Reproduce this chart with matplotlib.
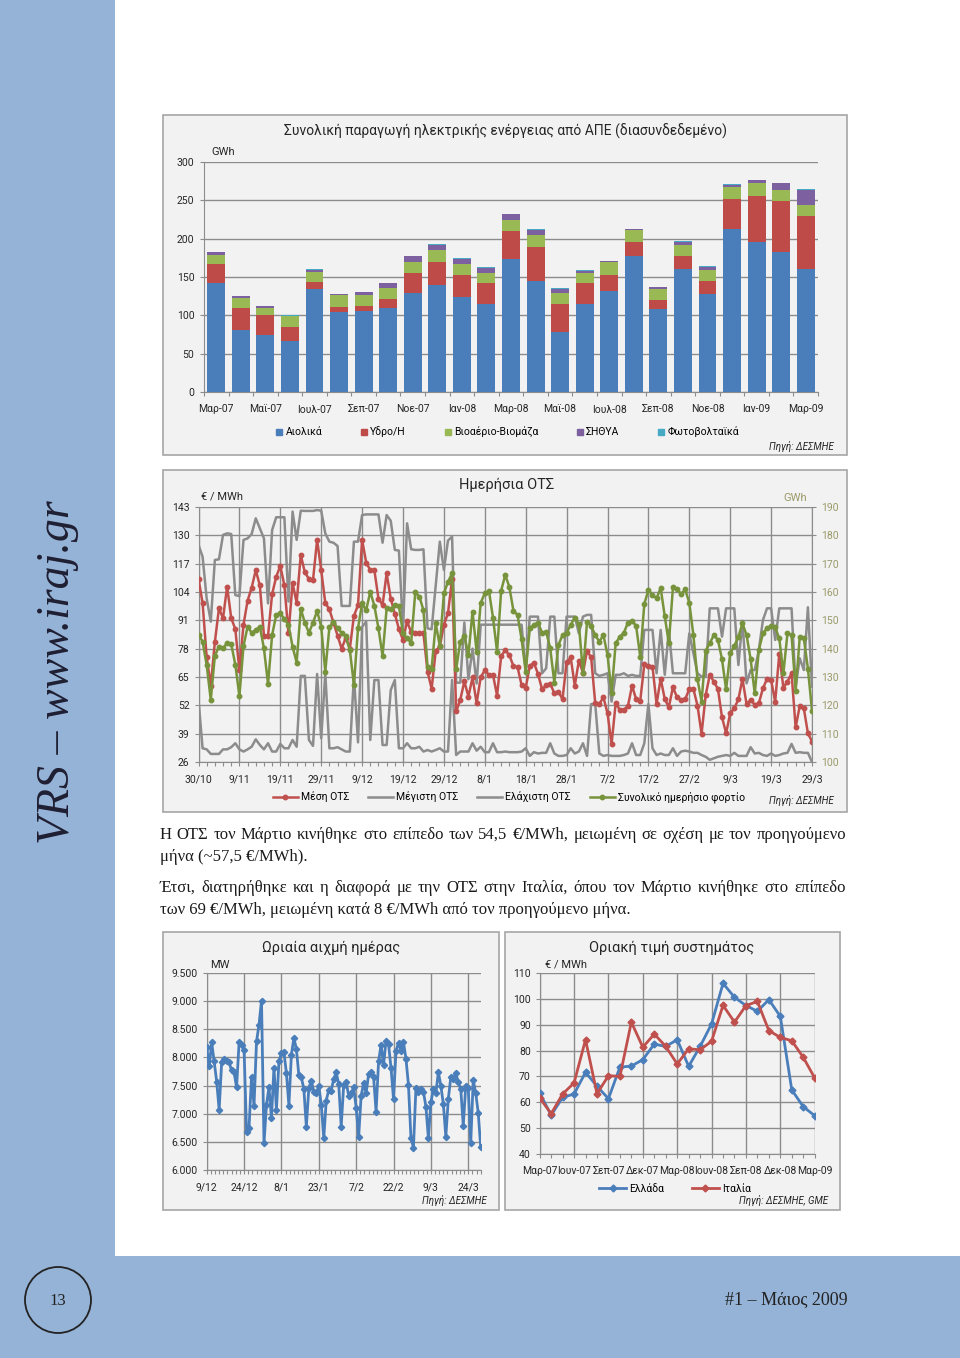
import numpy as np
import matplotlib
matplotlib.use('Agg')
import matplotlib.pyplot as plt
from matplotlib.patches import Rectangle, Circle
from matplotlib.lines import Line2D
from matplotlib.ticker import MultipleLocator, FuncFormatter

plt.rcParams['font.family'] = ['Roboto', 'DejaVu Sans']
SERIF = ['Liberation Serif', 'DejaVu Serif']

W, H = 960, 1358

# ---- monthly RES production (GWh) ----
months = ['Μαρ-07', 'Απρ-07', 'Μαϊ-07', 'Ιουν-07', 'Ιουλ-07', 'Αυγ-07', 'Σεπ-07', 'Οκτ-07',
          'Νοε-07', 'Δεκ-07', 'Ιαν-08', 'Φεβ-08', 'Μαρ-08', 'Απρ-08', 'Μαϊ-08', 'Ιουν-08',
          'Ιουλ-08', 'Αυγ-08', 'Σεπ-08', 'Οκτ-08', 'Νοε-08', 'Δεκ-08', 'Ιαν-09', 'Φεβ-09', 'Μαρ-09']
wind = [142, 81, 74, 66, 135, 105, 106, 110, 129, 139, 124, 115, 173, 145, 78, 115, 132, 178,
        108, 160, 128, 212, 196, 182, 160]
hydro = [25, 28, 26, 19, 9, 6, 6, 11, 26, 30, 28, 27, 37, 44, 37, 27, 21, 18, 12.5, 17, 17,
         40, 60, 67, 69]
bio = [12, 13, 10, 14, 13, 15, 14, 15, 15, 16, 15, 13, 15, 15.5, 14, 13.5, 16, 15, 14, 15,
       13.5, 15, 16, 15, 15]
chp = [3, 3, 2.5, 0.5, 2.5, 2, 4, 6, 7, 7, 7, 7, 7, 7, 5.5, 2.5, 1.5, 1, 2, 4, 4.5, 3, 4, 8, 20]
pv = [0.3, 0.3, 0.3, 0.3, 0.3, 0.3, 0.3, 0.3, 0.4, 0.4, 0.4, 0.4, 0.5, 1, 0.6, 0.6, 1, 0.8,
      0.7, 0.7, 0.8, 1.3, 0.5, 0.5, 1]
res_names = ['Αιολικά', 'Υδρο/Η', 'Βιοαέριο-Βιομάζα', 'ΣΗΘΥΑ', 'Φωτοβολταϊκά']
res_colors = ['#4a7ebb', '#be4b48', '#98b954', '#7d60a0', '#46aac5']

# ---- daily SMP 30/10/08 - 29/3/09 ----
day_labels = ['30/10', '9/11', '19/11', '29/11', '9/12', '19/12', '29/12', '8/1', '18/1',
              '28/1', '7/2', '17/2', '27/2', '9/3', '19/3', '29/3']
smp_avg = [110, 99, 74, 61, 81, 96.5, 92, 106.5, 92, 87,
           68, 89, 100, 106, 114, 107, 84, 84, 103, 111,
           116, 107, 85, 108, 99, 121, 113, 110, 109.5, 128,
           114, 99, 96, 90, 84, 78, 83, 78, 93, 98,
           128, 117.5, 114, 114, 101, 98, 112.6, 101, 94, 87,
           82, 90.5, 85.5, 85, 85, 85, 67.5, 59.6, 77, 79,
           89, 94.3, 110, 49.2, 54.5, 63, 56, 64.8, 53, 65,
           68, 66, 66, 56.5, 74.6, 77.3, 75, 70, 69.5, 61.3,
           60, 70, 71.6, 66.4, 59.4, 61.2, 62, 57.5, 58.3, 54.8,
           71.7, 74, 61, 72.5, 67, 77, 74, 53, 52.6, 55.7,
           48.4, 34.3, 53, 50, 50, 51.7, 61, 54.8, 54, 70.8,
           70, 69.8, 52.6, 64.2, 54.9, 51.2, 60.3, 55.7, 54.5, 54.8,
           59.5, 59.5, 51.9, 38.9, 56.6, 65.9, 62.9, 59.5, 46.5, 39.2,
           48.4, 50.6, 54.8, 64.1, 52.6, 54.5, 52.3, 52.9, 59.8, 64.1,
           63.6, 53.7, 75.6, 60.1, 62.9, 66.7, 41.9, 51.7, 50.6, 39.2, 35.4]
smp_max = [125.6, 120.2, 101, 90.4, 118.7, 119, 130.2, 130.9, 130.6, 102.6,
           102.1, 127.9, 128.6, 130.6, 137.8, 133.2, 128.6, 98.8, 132.4, 138.3,
           138.3, 138.3, 99.6, 140.9, 127.9, 141.3, 141.2, 141.2, 141.2, 141.6,
           141.3, 130.9, 127.1, 126.6, 125.1, 97.6, 97.6, 97.6, 127.1, 127.1,
           139.3, 139.6, 139.6, 139.6, 139.6, 126.6, 139.3, 136.7, 123.3, 123,
           87.3, 135.5, 123.6, 123.3, 123.3, 123.6, 87.3, 86.9, 106.8, 127.1,
           114.1, 127.6, 129.4, 62.4, 62.4, 90, 64, 78, 62, 89,
           89, 89, 89, 89, 89, 89, 89, 89, 89, 89,
           67.5, 92.7, 92.7, 92.7, 66.7, 69, 92.7, 92.7, 66.7, 66.7,
           92.7, 92.7, 92.7, 85, 92.7, 93.5, 93.5, 66.7, 65.5, 66,
           66.7, 53.7, 66, 66, 66.7, 65.5, 66, 65.5, 65.5, 86.6,
           86.6, 86.6, 66.7, 86.6, 66, 86.6, 66.7, 66.7, 66.7, 66.7,
           85, 75.9, 66.7, 65.2, 65.2, 96.5, 96.5, 96.5, 83.5, 96.5,
           96.5, 96.5, 70.5, 90.8, 62.1, 68.2, 68.2, 77.4, 91.1, 96.5,
           96.5, 82, 96.5, 96.5, 96.5, 96.5, 60.6, 73.6, 68.2, 97, 60.6]
smp_min = [54.5, 32.3, 31.8, 29.7, 29.7, 29.7, 31.8, 31.8, 32.8, 34.6,
           31.8, 30.8, 31.8, 33, 36.4, 33.8, 31.8, 34.6, 30.8, 30.8,
           34.3, 32.3, 32.3, 36.1, 33, 65.5, 65.5, 36.1, 33.4, 66.4,
           36.9, 66.7, 32.3, 32.3, 32.8, 31.8, 30.8, 30.8, 65.5, 35,
           88, 90.4, 36.1, 63.6, 63.6, 33.8, 33.8, 59, 63.6, 32.3,
           32.3, 34.6, 32.3, 32.3, 33, 30.8, 31.5, 30.8, 31.5, 32.3,
           30.8, 30.8, 63.6, 29.2, 30.8, 30.8, 30.8, 34.6, 31.2, 33,
           30.5, 30.5, 34.6, 30.5, 30.5, 30.8, 30.5, 30.5, 30.5, 30.8,
           32.3, 28.8, 30.5, 29.9, 30.2, 30.2, 34.6, 29.9, 28.8, 28.8,
           29.2, 32.3, 29.9, 30.8, 34.6, 28.8, 52.6, 52.6, 29.9, 28.8,
           29.2, 28.8, 28.8, 28.8, 29.2, 29.9, 34.6, 29.2, 29.2, 34.6,
           52.6, 32.3, 29.2, 29.9, 29.2, 29.2, 32.3, 28.8, 30.8, 31.2,
           30.8, 30.2, 30.2, 29.2, 28.4, 27, 27.7, 28.4, 28.8, 29.2,
           28.8, 30.2, 28.8, 28.8, 28.8, 32.8, 29.9, 30.2, 29.2, 28.8,
           29.9, 28.8, 29.2, 29.9, 30.2, 34.3, 30.2, 30.5, 30.2, 30.2, 26]
load = [145, 142.5, 134.2, 121.9, 137.5, 140.7, 140.1, 142.1, 141.6, 134.4,
        123.3, 140.9, 147.8, 145.6, 146.6, 147.8, 140.1, 127.5, 144.8, 151.9,
        152.5, 150.4, 148.4, 140.7, 135.1, 154, 149.2, 145.6, 149.2, 153.3,
        147.8, 131.9, 147.5, 149.5, 147.2, 145.6, 144.5, 139.5, 127.2, 147.2,
        156, 153.6, 160.1, 155.1, 147.2, 137.4, 154.2, 153.9, 155.4, 155.1,
        145.4, 143.6, 142.1, 159.9, 158.4, 153.6, 133.6, 133, 148.9, 140.9,
        159.5, 163.6, 166.6, 132.7, 142.5, 144.5, 137.8, 153.1, 138.9, 156.2,
        159.5, 160.5, 151, 138.9, 160.5, 166, 161.8, 153.4, 151.9, 143.3,
        131.9, 147.2, 148.4, 149.2, 145.6, 146, 140.1, 128, 141.3, 144.8,
        145.6, 148.4, 151, 148.7, 131.3, 149.5, 148, 144.8, 142.5, 144.8,
        137.8, 124.5, 141.9, 144.2, 145.6, 149.2, 149.9, 148, 137.2, 155.8,
        160.7, 158.9, 157.8, 161.4, 151.4, 141.9, 161.6, 160.9, 159.3, 160.9,
        156.2, 144.8, 129.2, 121.3, 139.3, 141.9, 144.8, 143.1, 136.2, 125.6,
        138.4, 140.9, 144.2, 148.9, 144.8, 136.2, 124.2, 139.5, 145.4, 147.2,
        148, 147.5, 143.6, 131.3, 145.4, 144.8, 125.2, 144, 143.6, 133, 118.1]

# ---- daily peak load (MW) 9/12/08 - 29/3/09 ----
peak_labels = ['9/12', '24/12', '8/1', '23/1', '7/2', '22/2', '9/3', '24/3']
peak = [8183, 7839, 8266, 7928, 7572, 7068, 7910, 7970, 7928, 7910,
        7768, 7733, 7466, 8266, 8225, 8136, 6683, 6754, 7661, 7140,
        8284, 8581, 9008, 6475, 7157, 7472, 6920, 7821, 7068, 7928,
        8077, 8094, 7721, 7145, 8047, 8343, 8154, 7679, 7644, 7442,
        6772, 7454, 7584, 7394, 7365, 7501, 7157, 6564, 7234, 7424,
        7412, 7620, 7733, 7525, 6772, 7513, 7561, 7323, 7365, 7466,
        7110, 6582, 7317, 7543, 7365, 7703, 7750, 7650, 7039, 7928,
        8225, 7869, 8296, 8237, 7810, 7258, 8118, 8255, 8118, 8272,
        7976, 7513, 6564, 6398, 7454, 7394, 7442, 7394, 7127, 6564,
        7205, 7436, 7365, 7739, 7495, 7175, 6594, 7264, 7650, 7614,
        7721, 7561, 7436, 6784, 7495, 7454, 6475, 7602, 7365, 7021, 6404]

# ---- monthly SMP Greece / Italy ----
smp_gr = [63.6, 55, 61.9, 63.2, 71.6, 66.2, 61.4, 73.6, 74, 76.5, 82.5, 81.6, 84.2, 73.9,
          81.6, 90.3, 106, 100.6, 97.4, 95.2, 99.7, 93.2, 64.8, 58.3, 54.8]
smp_it = [61.7, 55.6, 63.2, 67.5, 84.2, 63.3, 70.3, 70, 91, 81.3, 86.4, 81.6, 74.8, 80.7,
          80.3, 83.6, 97.5, 91, 97.4, 99, 87.7, 85.1, 83.8, 77.4, 69.4]

BOX_BG = '#f2f2f2'
GRID = '#8c8c8c'
TXT = '#262626'


def ax_rect(x0, y0, x1, y1):
    return [x0 / W, 1 - y1 / H, (x1 - x0) / W, (y1 - y0) / H]


def style(ax):
    ax.set_facecolor(BOX_BG)
    for s in ['top', 'right']:
        ax.spines[s].set_visible(False)
    for s in ['left', 'bottom']:
        ax.spines[s].set_color(GRID)
    ax.tick_params(labelsize=7.5, colors=GRID, labelcolor=TXT, length=3, width=0.8)
    ax.tick_params(which='minor', colors=GRID, length=3, width=0.8)
    ax.set_axisbelow(True)


fig = plt.figure(figsize=(W / 100, H / 100), dpi=100)
bg = fig.add_axes([0, 0, 1, 1])
bg.set_xlim(0, W)
bg.set_ylim(H, 0)
bg.axis('off')

blue = '#95b3d7'
bg.add_patch(Rectangle((0, 0), 115, 1256, color=blue, lw=0))
bg.add_patch(Rectangle((0, 1256), W, H - 1256, color=blue, lw=0))
for x0, y0, x1, y1 in [(163, 115, 847, 455), (163, 470, 847, 812),
                       (163, 932, 499, 1210), (505, 932, 840, 1210)]:
    bg.add_patch(Rectangle((x0, y0), x1 - x0, y1 - y0, facecolor=BOX_BG,
                           edgecolor='#a6a6a6', lw=1.2))

# side + footer
bg.text(58, 672, 'VRS – www.iraj.gr', rotation=90, ha='center', va='center',
        fontsize=33, style='italic', family=SERIF, color='#1f1f33')
bg.add_patch(Circle((58, 1300), 33, fill=False, edgecolor='#222222', lw=1.3))
bg.text(58, 1301, '13', ha='center', va='center', fontsize=12, family=SERIF, color='#222222')
bg.text(786, 1300, '#1 – Μάιος 2009', ha='center', va='center', fontsize=13,
        family=SERIF, color='#222222')

# ---------------- chart 1: stacked bars ----------------
ax1 = fig.add_axes(ax_rect(204, 162, 818, 392))
style(ax1)
x = np.arange(len(months))
bottom = np.zeros(len(months))
for vals, name, col in zip([wind, hydro, bio, chp, pv], res_names, res_colors):
    ax1.bar(x, vals, 0.73, bottom=bottom, color=col, label=name, zorder=3)
    bottom += np.array(vals)
ax1.set_xlim(-0.5, len(months) - 0.5)
ax1.set_ylim(0, 300)
ax1.set_yticks(range(0, 301, 50))
ax1.yaxis.grid(True, color=GRID, lw=1)
ax1.set_xticks(x[::2])
ax1.set_xticklabels(months[::2])
ax1.set_xticks(np.arange(-0.5, len(months), 1), minor=True)
ax1.tick_params(axis='x', which='major', length=0, pad=9)
ax1.tick_params(axis='y', pad=4)

bg.text(505, 131, 'Συνολική παραγωγή ηλεκτρικής ενέργειας από ΑΠΕ (διασυνδεδεμένο)',
        ha='center', va='center', fontsize=10, color=TXT)
bg.text(211, 152, 'GWh', ha='left', va='center', fontsize=8, color=TXT)
bg.text(834, 446, 'Πηγή: ΔΕΣΜΗΕ', ha='right', va='center', fontsize=7, style='italic', color=TXT)
h1 = [Line2D([], [], marker='s', ls='none', ms=5, color=c) for c in res_colors]
fig.legend(h1, res_names, loc='center', bbox_to_anchor=(507 / W, 1 - 432 / H), ncol=5,
           frameon=False, fontsize=7.5, handlelength=0.8, handletextpad=0.2, columnspacing=3.6)

# ---------------- chart 2: daily SMP ----------------
days = np.arange(len(smp_avg))
ax2 = fig.add_axes(ax_rect(198.5, 507, 812, 762))
style(ax2)
ax2.plot(days, smp_max, color=GRID, lw=1.8, zorder=3)
ax2.plot(days, smp_min, color=GRID, lw=1.8, zorder=3)
ax2.plot(days, smp_avg, color='#c0504d', lw=1.8, marker='o', ms=3.2, zorder=4)
ax2.set_xlim(0, 150)
ax2.set_ylim(26, 143)
ax2.set_yticks(range(26, 144, 13))
ax2.set_xticks(range(0, 151, 10))
ax2.set_xticklabels(day_labels)
ax2.xaxis.set_minor_locator(MultipleLocator(2))
ax2.grid(True, color=GRID, lw=1)
ax2.tick_params(axis='x', which='major', length=3, pad=6)
ax2r = ax2.twinx()
ax2r.spines['top'].set_visible(False)
ax2r.spines['left'].set_visible(False)
ax2r.spines['bottom'].set_visible(False)
ax2r.spines['right'].set_color(GRID)
ax2r.plot(days, load, color='#77933c', lw=1.8, marker='o', ms=3.2, zorder=5)
ax2r.set_ylim(100, 190)
ax2r.set_yticks(range(100, 191, 10))
ax2r.tick_params(labelsize=7.5, colors=GRID, labelcolor='#9a9a6a', length=3, width=0.8)

bg.text(507, 485, 'Ημερήσια ΟΤΣ', ha='center', va='center', fontsize=10.5, color=TXT)
bg.text(201, 497, '€ / MWh', ha='left', va='center', fontsize=8, color=TXT)
bg.text(795, 498, 'GWh', ha='center', va='center', fontsize=8, color='#9a9a6a')
bg.text(834, 801, 'Πηγή: ΔΕΣΜΗΕ', ha='right', va='center', fontsize=7, style='italic', color=TXT)
h2 = [Line2D([], [], color='#c0504d', lw=1.8, marker='o', ms=3.2),
      Line2D([], [], color=GRID, lw=1.8),
      Line2D([], [], color=GRID, lw=1.8),
      Line2D([], [], color='#77933c', lw=1.8, marker='o', ms=3.2)]
fig.legend(h2, ['Μέση ΟΤΣ', 'Μέγιστη ΟΤΣ', 'Ελάχιστη ΟΤΣ', 'Συνολικό ημερήσιο φορτίο'],
           loc='center', bbox_to_anchor=(509 / W, 1 - 797 / H), ncol=4, frameon=False,
           fontsize=7.5, handlelength=2.4, handletextpad=0.3, columnspacing=1.8)

# ---------------- chart 3: peak load ----------------
pdays = np.arange(len(peak))
ax3 = fig.add_axes(ax_rect(206.7, 973, 480.7, 1170))
style(ax3)
ax3.plot(pdays, peak, color='#4a7ebb', lw=2, marker='D', ms=3.2, zorder=3)
ax3.set_xlim(0, 110)
ax3.set_ylim(6000, 9500)
ax3.set_yticks(range(6000, 9501, 500))
ax3.yaxis.set_major_formatter(FuncFormatter(lambda v, p: f'{int(v):,}'.replace(',', '.')))
ax3.set_xticks(range(0, 106, 15))
ax3.set_xticklabels(peak_labels)
ax3.xaxis.set_minor_locator(MultipleLocator(5 / 3))
ax3.grid(True, color=GRID, lw=1)
ax3.tick_params(axis='x', which='major', pad=6)
bg.text(331, 948, 'Ωριαία αιχμή ημέρας', ha='center', va='center', fontsize=10.5, color=TXT)
bg.text(210, 965, 'MW', ha='left', va='center', fontsize=8, color=TXT)
bg.text(487, 1201, 'Πηγή: ΔΕΣΜΗΕ', ha='right', va='center', fontsize=7, style='italic', color=TXT)

# ---------------- chart 4: monthly SMP GR / IT ----------------
ax4 = fig.add_axes(ax_rect(539.7, 973, 814.7, 1154))
style(ax4)
mx = np.arange(len(months))
ax4.plot(mx, smp_gr, color='#4a7ebb', lw=2, marker='D', ms=3.5, zorder=3)
ax4.plot(mx, smp_it, color='#c0504d', lw=2, marker='D', ms=3.5, zorder=3)
ax4.set_xlim(0, 24)
ax4.set_ylim(40, 110)
ax4.set_yticks(range(40, 111, 10))
ax4.set_xticks(mx[::3])
ax4.set_xticklabels(months[::3])
ax4.xaxis.set_minor_locator(MultipleLocator(1))
ax4.grid(True, color=GRID, lw=1)
ax4.tick_params(axis='x', which='major', pad=6)
bg.text(672, 948, 'Οριακή τιμή συστημάτος', ha='center', va='center', fontsize=10.5, color=TXT)
bg.text(545, 965, '€ / MWh', ha='left', va='center', fontsize=8, color=TXT)
bg.text(828, 1201, 'Πηγή: ΔΕΣΜΗΕ, GME', ha='right', va='center', fontsize=7,
        style='italic', color=TXT)
h4 = [Line2D([], [], color='#4a7ebb', lw=2, marker='D', ms=3.5),
      Line2D([], [], color='#c0504d', lw=2, marker='D', ms=3.5)]
fig.legend(h4, ['Ελλάδα', 'Ιταλία'], loc='center', bbox_to_anchor=(675 / W, 1 - 1189 / H),
           ncol=2, frameon=False, fontsize=7.5, handlelength=2.6, handletextpad=0.3,
           columnspacing=2.6)

# ---------------- body text ----------------
renderer = fig.canvas.get_renderer()
FS = 12


def justify(line, y, x0=160, x1=846, fs=FS):
    words = line.split(' ')
    ts = [bg.text(x0, y, w, ha='left', va='center', fontsize=fs, family=SERIF, color='#1a1a1a')
          for w in words]
    widths = [t.get_window_extent(renderer).width for t in ts]
    gap = (x1 - x0 - sum(widths)) / (len(words) - 1)
    xx = x0
    for t, w in zip(ts, widths):
        t.set_x(xx)
        xx += w + gap


justify('Η ΟΤΣ τον Μάρτιο κινήθηκε στο επίπεδο των 54,5 €/MWh, μειωμένη σε σχέση με τον προηγούμενο', 835)
bg.text(160, 857, 'μήνα (~57,5 €/MWh).', ha='left', va='center', fontsize=FS, family=SERIF,
        color='#1a1a1a')
justify('Έτσι, διατηρήθηκε και η διαφορά με την ΟΤΣ στην Ιταλία, όπου τον Μάρτιο κινήθηκε στο επίπεδο', 888)
bg.text(160, 910, 'των 69 €/MWh, μειωμένη κατά 8 €/MWh από τον προηγούμενο μήνα.', ha='left',
        va='center', fontsize=FS, family=SERIF, color='#1a1a1a')

fig.savefig('out.png', dpi=100)
